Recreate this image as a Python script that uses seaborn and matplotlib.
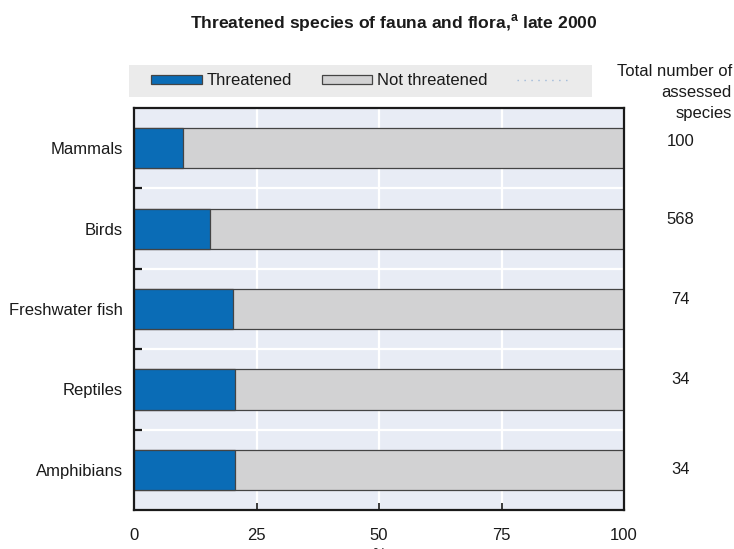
import matplotlib
matplotlib.use("Agg")
import matplotlib.pyplot as plt
from matplotlib.patches import Patch, Rectangle
from matplotlib.lines import Line2D
import seaborn as sns
import pandas as pd

# Share of assessed species that are threatened (%), late 2000
groups = ["Mammals", "Birds", "Freshwater fish", "Reptiles", "Amphibians"]
threatened_pct = [10.0, 15.5, 20.3, 20.6, 20.6]
assessed_total = [100, 568, 74, 34, 34]
x_ticks = [0, 25, 50, 75, 100]

df = pd.DataFrame({"group": groups, "threatened": threatened_pct})
df["not_threatened"] = [100 - v for v in threatened_pct]
df["total"] = df["threatened"] + df["not_threatened"]

sns.set_theme(style="white")
plt.rcParams["font.family"] = ["Liberation Sans", "DejaVu Sans"]
plt.rcParams["text.color"] = "#1A1A1A"
plt.rcParams["xtick.color"] = "#1A1A1A"
plt.rcParams["ytick.color"] = "#1A1A1A"

BLUE = "#0A6CB6"
GREY = "#D2D2D3"
EDGE = "#444444"
PANEL = "#E8ECF5"
FS = 12

fig = plt.figure(figsize=(7.34, 5.49), dpi=100)
ax = fig.add_axes([134 / 734, 1 - 510 / 549, 490 / 734, 402 / 549])
ax.set_facecolor(PANEL)

# full-length bars (threatened + not threatened) underneath, threatened share on top
sns.barplot(data=df, x="total", y="group", orient="h", color=GREY, width=0.5,
            edgecolor=EDGE, linewidth=0.9, ax=ax, saturation=1, zorder=3)
sns.barplot(data=df, x="threatened", y="group", orient="h", color=BLUE, width=0.5,
            edgecolor=EDGE, linewidth=0.9, ax=ax, saturation=1, zorder=4)
ax.set_axisbelow(False)

ax.set_xlim(0, 100)
ax.set_ylim(len(groups) - 0.5, -0.5)
ax.set_xticks(x_ticks)
ax.set_xticklabels([str(t) for t in x_ticks], fontsize=FS)
ax.set_yticks(range(len(groups)))
ax.set_yticklabels(groups, fontsize=FS)
ax.set_yticks([i + 0.5 for i in range(len(groups) - 1)], minor=True)
ax.tick_params(axis="y", which="major", length=0, pad=8)
ax.tick_params(axis="y", which="minor", direction="in", length=6, width=1.6,
               color="#1A1A1A", left=True)
ax.tick_params(axis="x", which="major", direction="in", length=5, width=1.2,
               color="#1A1A1A", pad=13, bottom=True)
ax.set_ylabel("")
ax.set_xlabel("%", fontsize=11, labelpad=3)

# white separators between categories and at the x gridlines
for v in x_ticks[1:-1]:
    ax.axvline(v, color="white", lw=1.6, zorder=1)
for i in range(len(groups) - 1):
    ax.axhline(i + 0.5, color="white", lw=1.6, zorder=1)

for s in ax.spines.values():
    s.set_visible(True)
    s.set_color("#1A1A1A")
    s.set_linewidth(1.6)
    s.set_zorder(5)

# totals column on the right
fig.text(732 / 734, 1 - 64 / 549, "Total number of\nassessed\nspecies", ha="right", va="top",
         fontsize=FS, linespacing=1.5)
label_dy = [-0.08, -0.11, -0.12, -0.12, 0.0]
for i, n in enumerate(assessed_total):
    ax.text(1.115, i + label_dy[i], str(n), transform=ax.get_yaxis_transform(),
            ha="center", va="center", fontsize=FS)

# legend band
fig.patches.append(Rectangle((129 / 734, 1 - 97 / 549), 463 / 734, 32 / 549,
                             transform=fig.transFigure, facecolor="#EBEBEB",
                             edgecolor="none", zorder=0))
handles = [Patch(facecolor=BLUE, edgecolor=EDGE, linewidth=0.9),
           Patch(facecolor=GREY, edgecolor=EDGE, linewidth=0.9),
           Line2D([], [], color="#9DB8D8", lw=1, linestyle=(0, (1, 4)))]
fig.legend(handles, ["Threatened", "Not threatened", ""], ncol=3, frameon=False,
           loc="center", bbox_to_anchor=(362 / 734, 1 - 81 / 549), fontsize=FS,
           handlelength=3.05, handleheight=0.48, handletextpad=0.3, columnspacing=1.75)

fig.text(394 / 734, 1 - 23 / 549, r"Threatened species of fauna and flora,$^{\mathregular{a}}$ late 2000",
         ha="center", va="center", fontsize=12.6, fontweight="bold")

fig.savefig("out.png", dpi=100)
